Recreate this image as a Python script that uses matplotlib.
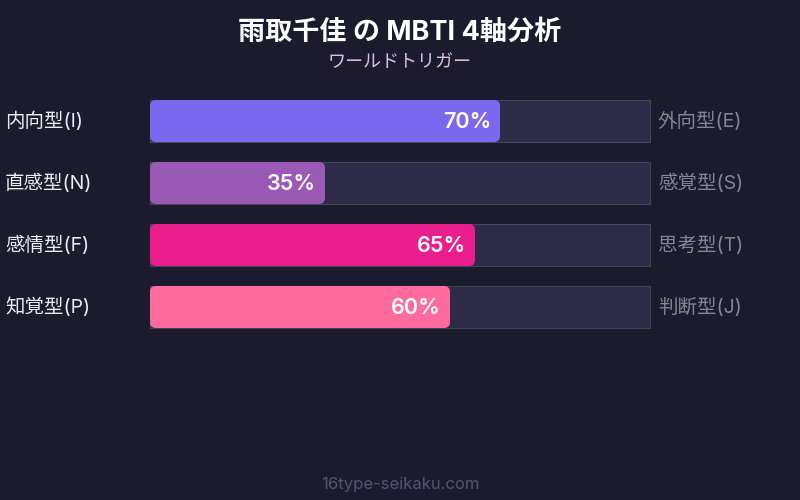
import matplotlib.pyplot as plt
from matplotlib.patches import FancyBboxPatch, Rectangle

plt.rcParams['font.family'] = ['Inter', 'Noto Sans CJK JP', 'DejaVu Sans']

title = '雨取千佳 の MBTI 4軸分析'
subtitle = 'ワールドトリガー'
left_labels = ['内向型(I)', '直感型(N)', '感情型(F)', '知覚型(P)']
right_labels = ['外向型(E)', '感覚型(S)', '思考型(T)', '判断型(J)']
values = [70, 35, 65, 60]
colors = ['#7b68ee', '#9b59b6', '#e91e8c', '#ff6b9d']

BG = '#1b1b2d'
TRACK = '#2d2b48'
EDGE = '#45435f'

fig = plt.figure(figsize=(8, 5), dpi=100, facecolor=BG)
ax = fig.add_axes([0, 0, 1, 1])
ax.set_xlim(0, 800)
ax.set_ylim(500, 0)
ax.axis('off')
ax.set_facecolor(BG)

x0, w = 150, 500   # track in pixels
top0, h, step = 100, 42, 62

for i, v in enumerate(values):
    y = top0 + i * step
    ax.add_patch(Rectangle((x0, y), w, h, facecolor=TRACK, edgecolor=EDGE, lw=0.8))
    bw = w * v / 100
    ax.add_patch(FancyBboxPatch((x0, y), bw, h, boxstyle='round,pad=0,rounding_size=6',
                                facecolor=colors[i], edgecolor='none'))
    ax.text(x0 + bw - 9, y + h / 2 + 1, f'{v}%', color='white', fontsize=15.5,
            fontweight='semibold', ha='right', va='center')
    ax.text(5, y + h / 2, left_labels[i], color='#ececf4', fontsize=14,
            ha='left', va='center')
    ax.text(658, y + h / 2, right_labels[i], color='#85849a', fontsize=14,
            ha='left', va='center')

ax.text(400, 33, title, color='white', fontsize=19.5, fontweight='bold',
        ha='center', va='center')
ax.text(400, 63, subtitle, color='#dcc0e6', fontsize=13, ha='center', va='center')
ax.text(400, 484, '16type-seikaku.com', color='#54546e', fontsize=12, ha='center', va='center')

fig.savefig('out.png', dpi=100, facecolor=BG)
